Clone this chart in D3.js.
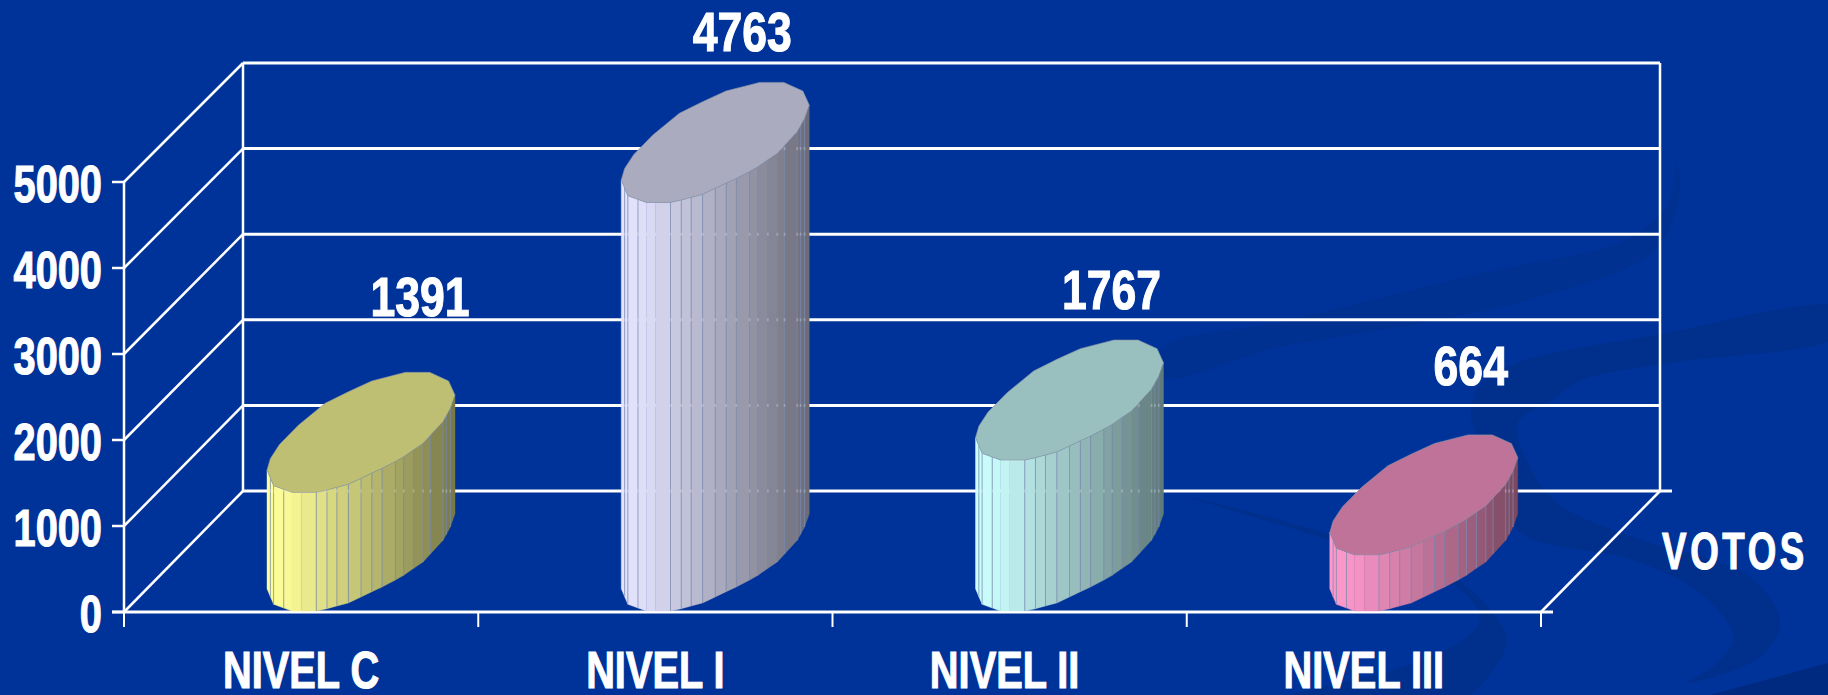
<!DOCTYPE html>
<html><head><meta charset="utf-8">
<style>html,body{margin:0;padding:0;background:#003399;overflow:hidden}svg{display:block}
text{font-family:"Liberation Sans",sans-serif;font-weight:700;fill:#fff;stroke:#fff;stroke-width:1.1}</style>
<script src="https://cdn.jsdelivr.net/npm/d3@7"></script></head><body>
<script>
const categories=["NIVEL C","NIVEL I","NIVEL II","NIVEL III"];
const votes=[1391,4763,1767,664];
const baseColors=["#FFFF99","#E4E4FF","#CCFFFF","#FF99CC"];
const yTicks=[0,1000,2000,3000,4000,5000];
const axisTitle="VOTOS";
const W=1828,H=695;
const svg=d3.select("body").append("svg").attr("width",W).attr("height",H);

// decorative background swooshes
const closed=d3.line().curve(d3.curveCatmullRomClosed.alpha(.5));
const swooshA=[[1163,348],[1280,322],[1400,293],[1496,270],[1625,240],[1668,205],[1676,165],[1680,190],[1655,250],[1539,297],[1427,322],[1280,347],[1163,377]];
const swooshB=[[1840,308],[1656,335],[1517,363],[1480,385],[1471,413],[1480,445],[1517,530],[1633,560],[1700,593],[1733,637],[1717,663],[1687,683],[1760,657],[1780,623],[1750,577],[1633,537],[1560,505],[1530,467],[1518,423],[1552,400],[1582,380],[1669,363],[1840,335]];
const swooshC=[[1188,497],[1332,535],[1457,580],[1500,623],[1507,640],[1493,670],[1460,700],[1280,700],[1402,667],[1467,637],[1480,617],[1457,587],[1332,541]];
svg.append("path").attr("d",closed(swooshA)).attr("fill","#003090");
[swooshB,swooshC].forEach(p=>svg.append("path").attr("d",closed(p)).attr("fill","#002f8c"));
const corner=[[1710,695],[1828,663],[1828,695]];
svg.append("path").attr("d",d3.line()(corner)+"Z").attr("fill","#002a80");

const x=d3.scaleBand().domain(categories).range([124,1541]);
const y=d3.scaleLinear().domain([0,5000]).range([612,182]);
const yBack=d3.scaleLinear().domain([0,5000]).range([491,63]);
const depthX=119;
const line=(a,b,c,d,w=2.5)=>svg.append("line").attr("x1",a).attr("y1",b).attr("x2",c).attr("y2",d).attr("stroke","#fff").attr("stroke-width",w);
const label=(tx,ty,str,anchor="middle",sx=.78,ls=0,fs=51)=>svg.append("text")
  .attr("transform",`translate(${tx},${ty}) scale(${sx},1)`).attr("text-anchor",anchor)
  .attr("font-size",fs).attr("letter-spacing",ls).text(str);

// walls and grid
yTicks.forEach(t=>{
  line(112,y(t),124,y(t),2.5);
  line(124,y(t),124+depthX,yBack(t),2.5);
  line(124+depthX,yBack(t),1541+depthX,yBack(t),3);
  label(102,y(t)+20,t,"end");
});
line(124,y(0),124,y(5000),2.5);
line(124+depthX,yBack(0),124+depthX,yBack(5000),2.5);
line(1541+depthX,yBack(0),1541+depthX,yBack(5000),2.5);
line(1541,y(0),1541+depthX,yBack(0),2.5);
line(112,y(0),1553,y(0),3);
line(1660,yBack(0),1672,yBack(0),3);
[...categories.map(c=>x(c)),1541].forEach(v=>line(v,612,v,627,2));
const catDx=[0,0,-5,0];
categories.forEach((c,i)=>label(x(c)+x.bandwidth()/2+catDx[i],688,c));
label(1735,569,axisTitle,"middle",.72,5);

// cylinder profile in normalised coordinates (0..1 across width and ellipse height)
const upper=[[0,.814],[.018,.717],[.067,.6],[.168,.439],[.309,.258],[.433,.161],[.557,.072],[.736,0],[.865,0],[.966,.072],[1,.189]];
const lower=[[0,.814],[.018,.881],[.035,.944],[.089,.975],[.133,1],[.183,1],[.262,1],[.319,.981],[.372,.958],[.433,.933],[.5,.883],[.558,.839],[.612,.8],[.683,.742],[.727,.703],[.78,.644],[.83,.592],[.869,.525],[.936,.411],[.954,.361],[.975,.3],[1,.189]];
const bw=188,eh=120,barOffset=143;
const labelGap=[56,31,31,50];
const labelDx=[59,27,42,47];
votes.forEach((v,i)=>{
  const g=svg.append("g");
  const c=d3.rgb(baseColors[i]);
  const left=x(categories[i])+barOffset;
  const topEdge=y(v);
  const bottomEdge=y(0)-1;
  const px=n=>left+n*bw;
  const py=(n,base)=>base-eh+n*eh;
  const shade=d3.scaleLinear().domain([0,.13,1]).range([1,.97,.47]);
  const ticks=[];
  for(let k=0;k<lower.length-1;k++){
    const a=lower[k],b=lower[k+1];
    const f=shade((a[0]+b[0])/2);
    const col=d3.rgb(c.r*f,c.g*f,c.b*f);
    g.append("path").attr("d",`M${px(a[0])},${py(a[1],topEdge)}L${px(b[0])},${py(b[1],topEdge)}L${px(b[0])},${py(b[1],bottomEdge)}L${px(a[0])},${py(a[1],bottomEdge)}Z`)
     .attr("fill",col).attr("stroke",col).attr("stroke-width",.4);
    if(k>0&&k!==5&&k!==4){
      const y1=py(a[1],topEdge),y2=py(a[1],bottomEdge);
      g.append("line").attr("x1",px(a[0])).attr("y1",y1).attr("x2",px(a[0])).attr("y2",y2).attr("stroke","#7f8fb0").attr("stroke-opacity",.75).attr("stroke-width",1);
      yTicks.forEach(t=>{const gy=yBack(t); if(gy>y1&&gy<y2) ticks.push([px(a[0]),gy]);});
    }
  }
  ticks.forEach(p=>g.append("rect").attr("x",p[0]-1).attr("y",p[1]-1.5).attr("width",2).attr("height",3).attr("fill","#fff").attr("opacity",.2));
  const outline=[...upper,...lower.slice(1,-1).reverse()];
  const f=.75;
  g.append("path").attr("d",d3.line().curve(d3.curveLinearClosed)(outline.map(d=>[px(d[0]),py(d[1],topEdge)])))
   .attr("fill",d3.rgb(c.r*f,c.g*f,c.b*f)).attr("stroke","#8896a8").attr("stroke-width",.6);
  label(left+bw/2+labelDx[i],topEdge-eh-labelGap[i],v,"middle",.81,0,55);
});
</script></body></html>
